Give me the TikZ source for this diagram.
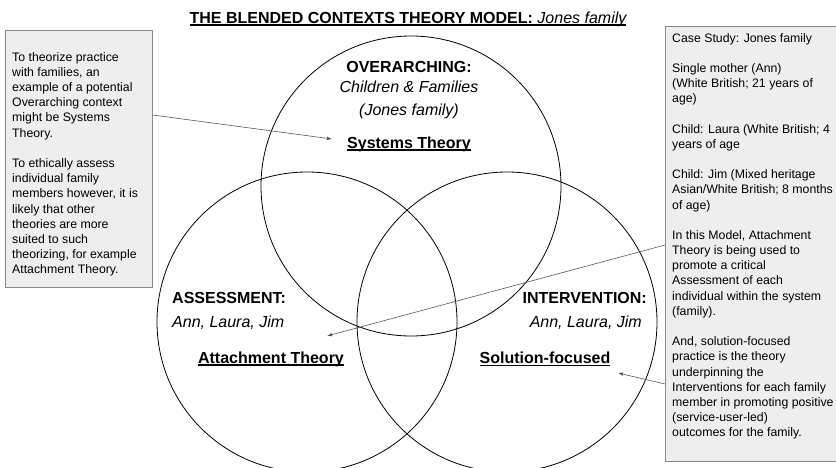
\documentclass[tikz,border=0pt]{standalone}
\usepackage{fontspec}
\setmainfont{Liberation Sans}
\usetikzlibrary{arrows.meta}

\definecolor{notefill}{HTML}{EEEEEE}
\definecolor{noteline}{HTML}{8A8A8A}
\definecolor{pointerline}{HTML}{555555}

% bold underline close to the baseline
\newcommand{\ulbold}[1]{\setbox0\hbox{#1}\rlap{#1}\rule[-2.4pt]{\wd0}{1.1pt}}

\tikzset{
  note/.style={draw=noteline, fill=notefill, line width=0.7pt, anchor=north west, inner sep=0pt},
  notetext/.style={anchor=north west, inner sep=0pt, align=left, font=\fontsize{12.3}{15.2}\selectfont},
  heading/.style={inner sep=1pt, font=\fontsize{16}{19}\selectfont\bfseries},
  members/.style={inner sep=1pt, font=\fontsize{16}{19}\selectfont\itshape},
  theory/.style={inner sep=1pt, font=\fontsize{16}{19}\selectfont\bfseries},
  pointer/.style={draw=pointerline, line width=0.6pt, -{Latex[length=5pt,width=3.5pt]}},
}

\begin{document}
\begin{tikzpicture}[x=1pt, y=-1pt]

    \useasboundingbox (0, 0) rectangle (836, 468);
    \clip (0, 0) rectangle (836, 468);

    % Title
    \node[inner sep=0pt, font=\fontsize{16}{19}\selectfont] (title) at (408, 19)
        {\ulbold{\bfseries THE BLENDED CONTEXTS THEORY MODEL: \mdseries\itshape Jones family}};

    % Contexts
    \draw[line width=0.8pt] (411, 186) circle[radius=150pt];
    \draw[line width=0.8pt] (307, 322) circle[radius=150pt];
    \draw[line width=0.8pt] (507, 322) circle[radius=150pt];

    % Overarching context
    \node[heading] (over) at (409, 67) {OVERARCHING:};
    \node[members] (overwho) at (409, 87) {Children \& Families};
    \node[members] (overfam) at (409, 111) {(Jones family)};
    \node[theory] (systems) at (409, 144) {\ulbold{Systems Theory}};

    % Assessment context
    \node[heading, anchor=west] (assess) at (171, 298) {ASSESSMENT:};
    \node[members, anchor=west] (assesswho) at (171, 323) {Ann, Laura, Jim};
    \node[theory] (attach) at (271, 359) {\ulbold{Attachment Theory}};

    % Intervention context
    \node[heading, anchor=east] (interv) at (648, 298) {INTERVENTION:};
    \node[members, anchor=east] (intervwho) at (643, 323) {Ann, Laura, Jim};
    \node[theory] (solution) at (545, 359) {\ulbold{Solution-focused}};

    % Left note
    \node[note, minimum width=147pt, minimum height=257pt] (lbox) at (5, 30) {};
    \node[notetext] (ltext) at (12, 52) {To theorize practice\\
        with families, an\\
        example of a potential\\
        Overarching context\\
        might be Systems\\
        Theory.\\[15.2pt]
        To ethically assess\\
        individual family\\
        members however, it is\\
        likely that other\\
        theories are more\\
        suited to such\\
        theorizing, for example\\
        Attachment Theory.};

    % Right note (case study)
    \node[note, minimum width=200pt, minimum height=435pt] (rbox) at (665, 26) {};
    \node[notetext] (rtext) at (672, 33) {Case Study: Jones family\\[15.1pt]
        Single mother (Ann)\\
        (White British; 21 years of\\
        age)\\[15.1pt]
        Child: Laura (White British; 4\\
        years of age\\[15.1pt]
        Child: Jim (Mixed heritage\\
        Asian/White British; 8 months\\
        of age)\\[15.1pt]
        In this Model, Attachment\\
        Theory is being used to\\
        promote a critical\\
        Assessment of each\\
        individual within the system\\
        (family).\\[15.1pt]
        And, solution-focused\\
        practice is the theory\\
        underpinning the\\
        Interventions for each family\\
        member in promoting positive\\
        (service-user-led)\\
        outcomes for the family.};

    % Pointers
    \coordinate (lout) at ([yshift=-85pt]lbox.north east);
    \coordinate (rout1) at ([yshift=-219pt]rbox.north west);
    \coordinate (rout2) at ([yshift=-358pt]rbox.north west);
    \coordinate (systip) at (332, 139);
    \coordinate (atttip) at (327, 336);
    \coordinate (soltip) at (618, 373);
    \draw[pointer] (lout) -- (systip);
    \draw[pointer] (rout1) -- (atttip);
    \draw[pointer] (rout2) -- (soltip);

\end{tikzpicture}
\end{document}
